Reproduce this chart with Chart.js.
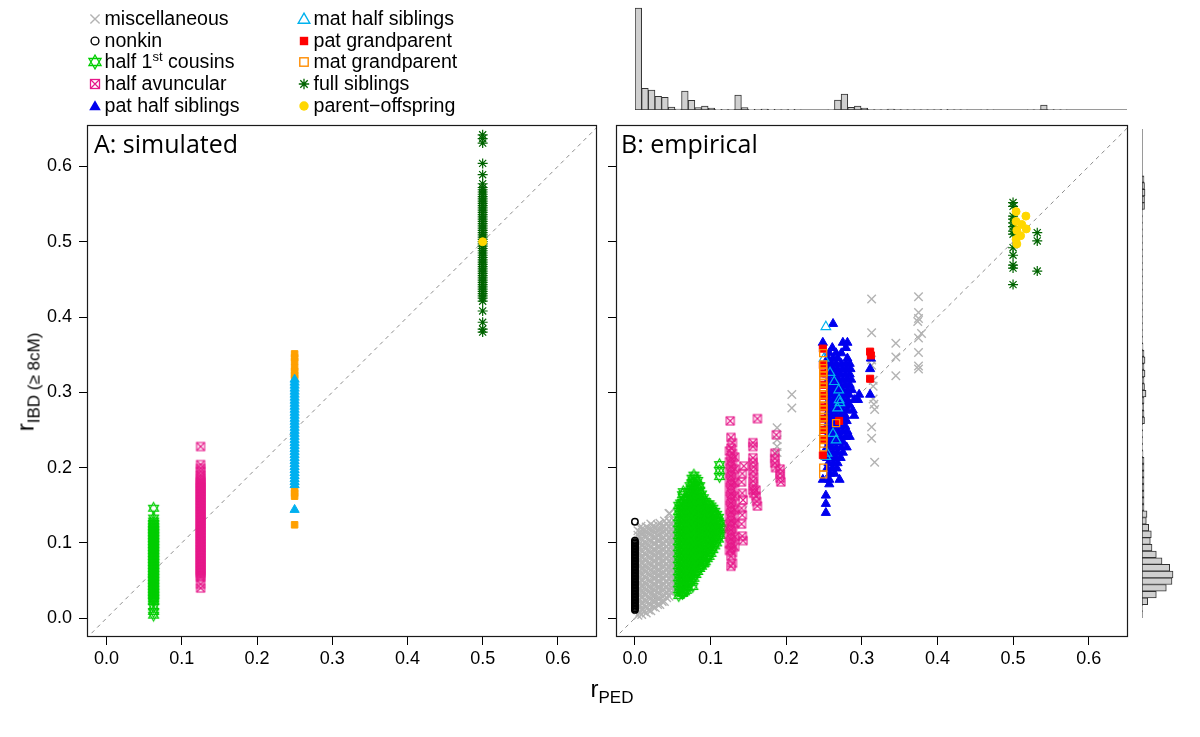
<!DOCTYPE html>
<html>
<head>
<meta charset="utf-8">
<title>r IBD vs r PED</title>
<script src="https://cdn.jsdelivr.net/npm/chart.js@4.4.1/dist/chart.umd.min.js"></script>
<style>
html,body{margin:0;padding:0;background:#fff;}
#wrap{position:relative;width:1200px;height:737px;overflow:hidden;background:#fff;font-family:"Liberation Sans",Arial,Helvetica,sans-serif;color:#000;}
#wrap canvas{position:absolute;}
.lg{position:absolute;font-size:19.6px;line-height:22px;white-space:nowrap;}
.lg svg{position:absolute;overflow:visible;}
.lg sup{font-size:13px;line-height:0;vertical-align:0.55em;}
.ptitle{position:absolute;font-family:"Open Sans","Noto Sans",sans-serif;font-size:25px;line-height:25px;white-space:nowrap;}
.atitle{position:absolute;white-space:nowrap;font-size:24px;line-height:28px;}
.atitle .sub{font-size:17px;position:relative;top:6px;}
</style>
</head>
<body>
<div id="wrap">
<canvas id="cA" width="1200" height="737" style="left:0;top:0"></canvas>
<canvas id="cB" width="1200" height="737" style="left:0;top:0"></canvas>
<canvas id="cTop" width="492" height="110" style="left:635px;top:0"></canvas>
<canvas id="cRight" width="36" height="489" style="left:1142px;top:129px"></canvas>

<div class="ptitle" style="left:94px;top:130.5px">A: simulated</div>
<div class="ptitle" style="left:621px;top:130.5px">B: empirical</div>

<div class="atitle" style="left:27px;top:382px;transform:translate(-50%,-50%) rotate(-90deg);">r<span class="sub">IBD (≥ 8cM)</span></div>
<div class="atitle" style="left:612px;top:690px;transform:translate(-50%,-50%);">r<span class="sub">PED</span></div>

<!-- legend, left column -->
<div class="lg" style="left:104.5px;top:7px"><svg width="16" height="16" viewBox="-8 -8 16 16" style="left:-17.5px;top:4px"><path d="M-4.6-4.6L4.6 4.6M-4.6 4.6L4.6-4.6" stroke="#b3b3b3" stroke-width="1.4" fill="none"/></svg>miscellaneous</div>
<div class="lg" style="left:104.5px;top:28.7px"><svg width="16" height="16" viewBox="-8 -8 16 16" style="left:-17.5px;top:4px"><circle r="3.9" fill="none" stroke="#000" stroke-width="1.4"/></svg>nonkin</div>
<div class="lg" style="left:104.5px;top:50.4px"><svg width="16" height="16" viewBox="-8 -8 16 16" style="left:-17.5px;top:4px"><path d="M0-7L6.06 3.5L-6.06 3.5Z M0 7L6.06-3.5L-6.06-3.5Z" fill="none" stroke="#00cd00" stroke-width="1.3"/></svg>half 1<sup>st</sup> cousins</div>
<div class="lg" style="left:104.5px;top:72.1px"><svg width="16" height="16" viewBox="-8 -8 16 16" style="left:-17.5px;top:4px"><rect x="-4.5" y="-4.5" width="9" height="9" fill="none" stroke="#e6198a" stroke-width="1.3"/><path d="M-4.5-4.5L4.5 4.5M-4.5 4.5L4.5-4.5" stroke="#e6198a" stroke-width="1.2"/></svg>half avuncular</div>
<div class="lg" style="left:104.5px;top:93.8px"><svg width="16" height="16" viewBox="-8 -8 16 16" style="left:-17.5px;top:4px"><path d="M0-5.8L5.8 4.2L-5.8 4.2Z" fill="#0000ee"/></svg>pat half siblings</div>

<!-- legend, right column -->
<div class="lg" style="left:313.5px;top:7px"><svg width="16" height="16" viewBox="-8 -8 16 16" style="left:-17.5px;top:4px"><path d="M0-5.8L5.8 4.2L-5.8 4.2Z" fill="none" stroke="#00b2ee" stroke-width="1.4"/></svg>mat half siblings</div>
<div class="lg" style="left:313.5px;top:28.7px"><svg width="16" height="16" viewBox="-8 -8 16 16" style="left:-17.5px;top:4px"><rect x="-4.2" y="-4.2" width="8.4" height="8.4" fill="#ff0000"/></svg>pat grandparent</div>
<div class="lg" style="left:313.5px;top:50.4px"><svg width="16" height="16" viewBox="-8 -8 16 16" style="left:-17.5px;top:4px"><rect x="-4.2" y="-4.2" width="8.4" height="8.4" fill="none" stroke="#ff8c00" stroke-width="1.4"/></svg>mat grandparent</div>
<div class="lg" style="left:313.5px;top:72.1px"><svg width="16" height="16" viewBox="-8 -8 16 16" style="left:-17.5px;top:4px"><path d="M-5.2 0H5.2M0-5.2V5.2M-3.7-3.7L3.7 3.7M-3.7 3.7L3.7-3.7" stroke="#006400" stroke-width="1.3" fill="none"/></svg>full siblings</div>
<div class="lg" style="left:313.5px;top:93.8px"><svg width="16" height="16" viewBox="-8 -8 16 16" style="left:-17.5px;top:4px"><circle r="4.7" fill="#ffd700"/></svg>parent−offspring</div>
</div>

<script>
// ================= DATA =================
const TICK_VALUES = [0.0, 0.1, 0.2, 0.3, 0.4, 0.5, 0.6];
const DIAGONAL = [[-0.05, -0.05], [0.7, 0.7]];

// ---- Panel A: simulated (one r_PED value per relationship) ----
const simCousinsX = 0.0625;
const simCousinsY = [0.146, 0.133, 0.129, 0.126, 0.124, 0.122, 0.120, 0.118, 0.116, 0.114, 0.112, 0.110, 0.108, 0.106, 0.104, 0.102, 0.100, 0.098, 0.096, 0.094, 0.092, 0.090, 0.088, 0.086, 0.084, 0.082, 0.080, 0.078, 0.076, 0.074, 0.072, 0.070, 0.068, 0.066, 0.064, 0.062, 0.060, 0.058, 0.056, 0.054, 0.052, 0.050, 0.048, 0.046, 0.044, 0.042, 0.040, 0.038, 0.036, 0.034, 0.032, 0.030, 0.028, 0.026, 0.024, 0.022, 0.015, 0.009, 0.004];
const simAvuncX = 0.125;
const simAvuncY = [0.228, 0.204, 0.199, 0.195, 0.190, 0.187, 0.184, 0.182, 0.180, 0.178, 0.176, 0.174, 0.172, 0.170, 0.168, 0.166, 0.164, 0.162, 0.160, 0.158, 0.156, 0.154, 0.152, 0.150, 0.148, 0.146, 0.144, 0.142, 0.140, 0.138, 0.136, 0.134, 0.132, 0.130, 0.128, 0.126, 0.124, 0.122, 0.120, 0.118, 0.116, 0.114, 0.112, 0.110, 0.108, 0.106, 0.104, 0.102, 0.100, 0.098, 0.096, 0.094, 0.092, 0.090, 0.088, 0.086, 0.084, 0.082, 0.080, 0.078, 0.076, 0.074, 0.072, 0.070, 0.068, 0.066, 0.064, 0.062, 0.060, 0.058, 0.056, 0.054, 0.045, 0.040];
const simGrandX = 0.25;
const simGrandY = [0.351, 0.346, 0.341, 0.333, 0.328, 0.323, 0.319, 0.171, 0.166, 0.162, 0.124];
const simHalfSibX = 0.25;
const simHalfSibY = [0.317, 0.313, 0.309, 0.305, 0.301, 0.297, 0.293, 0.289, 0.285, 0.281, 0.277, 0.273, 0.269, 0.265, 0.261, 0.257, 0.253, 0.249, 0.245, 0.241, 0.237, 0.233, 0.229, 0.225, 0.221, 0.217, 0.213, 0.209, 0.205, 0.201, 0.197, 0.193, 0.189, 0.185, 0.181, 0.177, 0.144];
const simFullSibX = 0.5;
const simFullSibY = [0.642, 0.637, 0.631, 0.604, 0.589, 0.577, 0.572, 0.569, 0.566, 0.563, 0.560, 0.557, 0.554, 0.551, 0.548, 0.545, 0.542, 0.539, 0.536, 0.533, 0.530, 0.527, 0.524, 0.521, 0.518, 0.515, 0.512, 0.509, 0.506, 0.503, 0.500, 0.497, 0.494, 0.491, 0.488, 0.485, 0.482, 0.479, 0.476, 0.473, 0.470, 0.467, 0.464, 0.461, 0.458, 0.455, 0.452, 0.449, 0.446, 0.443, 0.440, 0.437, 0.434, 0.431, 0.428, 0.425, 0.421, 0.408, 0.393, 0.384, 0.380];
const simParentOffspring = [[0.5, 0.5]];

// ---- Panel B: empirical ----
// dense clouds as columns: [r_PED, [r_IBD values]]
const empMiscCloud = [
  [0.004, [0.004, 0.011, 0.019, 0.027, 0.034, 0.042, 0.050, 0.057, 0.065, 0.073, 0.080, 0.088, 0.096, 0.103, 0.110, 0.116]],
  [0.0065, [0.008, 0.016, 0.024, 0.031, 0.039, 0.047, 0.054, 0.062, 0.070, 0.078, 0.085, 0.093, 0.100, 0.108, 0.114]],
  [0.009, [0.005, 0.012, 0.020, 0.028, 0.036, 0.043, 0.051, 0.059, 0.066, 0.074, 0.082, 0.090, 0.097, 0.105, 0.112, 0.118]],
  [0.012, [0.009, 0.017, 0.024, 0.032, 0.040, 0.047, 0.055, 0.063, 0.070, 0.078, 0.086, 0.094, 0.101, 0.109, 0.116]],
  [0.015, [0.007, 0.015, 0.023, 0.031, 0.038, 0.046, 0.054, 0.062, 0.069, 0.077, 0.085, 0.093, 0.100, 0.108, 0.115, 0.121]],
  [0.018, [0.011, 0.019, 0.027, 0.035, 0.042, 0.050, 0.058, 0.066, 0.073, 0.081, 0.089, 0.097, 0.104, 0.112, 0.119]],
  [0.021, [0.010, 0.018, 0.026, 0.033, 0.041, 0.049, 0.057, 0.064, 0.072, 0.080, 0.088, 0.095, 0.103, 0.111, 0.118, 0.125]],
  [0.024, [0.015, 0.022, 0.030, 0.038, 0.045, 0.053, 0.061, 0.068, 0.076, 0.084, 0.091, 0.099, 0.107, 0.115, 0.122]],
  [0.027, [0.014, 0.022, 0.030, 0.037, 0.045, 0.053, 0.060, 0.068, 0.076, 0.084, 0.091, 0.099, 0.107, 0.114, 0.121]],
  [0.030, [0.018, 0.026, 0.034, 0.041, 0.049, 0.057, 0.064, 0.072, 0.080, 0.087, 0.095, 0.103, 0.110, 0.117]],
  [0.033, [0.018, 0.026, 0.033, 0.041, 0.049, 0.057, 0.064, 0.072, 0.080, 0.088, 0.095, 0.103, 0.111, 0.118, 0.126]],
  [0.036, [0.022, 0.029, 0.037, 0.045, 0.053, 0.060, 0.068, 0.076, 0.083, 0.091, 0.099, 0.106, 0.114, 0.121]],
  [0.039, [0.022, 0.030, 0.038, 0.045, 0.053, 0.061, 0.069, 0.076, 0.084, 0.092, 0.099, 0.107, 0.115, 0.122, 0.129]],
  [0.042, [0.027, 0.034, 0.042, 0.049, 0.057, 0.065, 0.072, 0.080, 0.088, 0.095, 0.103, 0.111, 0.118, 0.125]],
  [0.045, [0.029, 0.036, 0.044, 0.052, 0.060, 0.067, 0.075, 0.083, 0.091, 0.098, 0.106, 0.114, 0.121, 0.129, 0.139]],
  [0.048, [0.034, 0.041, 0.049, 0.056, 0.064, 0.072, 0.079, 0.087, 0.095, 0.102, 0.110, 0.118, 0.126]],
  [0.051, [0.037, 0.045, 0.052, 0.060, 0.068, 0.076, 0.083, 0.091, 0.099, 0.107, 0.114, 0.122, 0.130]],
  [0.0535, [0.043, 0.050, 0.057, 0.065, 0.073, 0.080, 0.088, 0.096, 0.104, 0.111, 0.118]],
  [0.056, [0.046, 0.053, 0.061, 0.069, 0.077, 0.084, 0.092, 0.100, 0.108, 0.115, 0.122]]
];
const empMiscPts = [
  [0.313, 0.424], [0.375, 0.427], [0.375, 0.406], [0.375, 0.398], [0.374, 0.394], [0.379, 0.378], [0.375, 0.372], [0.375, 0.353], [0.375, 0.335], [0.375, 0.331],
  [0.345, 0.365], [0.345, 0.347], [0.345, 0.322],
  [0.313, 0.379], [0.313, 0.343], [0.313, 0.336], [0.315, 0.316], [0.315, 0.308], [0.315, 0.291], [0.316, 0.284], [0.317, 0.277], [0.313, 0.254], [0.313, 0.239], [0.317, 0.207],
  [0.2075, 0.297], [0.2075, 0.279],
  [0.188, 0.253], [0.188, 0.237], [0.188, 0.228], [0.188, 0.220],
  [0.046, 0.139], [0.030, 0.124], [0.008, 0.122]
];
const empNonkinX = 0.0;
const empNonkinY = [0.128, 0.103, 0.101, 0.099, 0.097, 0.095, 0.093, 0.091, 0.089, 0.087, 0.085, 0.083, 0.081, 0.079, 0.077, 0.075, 0.073, 0.071, 0.069, 0.067, 0.065, 0.063, 0.061, 0.059, 0.057, 0.055, 0.053, 0.051, 0.049, 0.047, 0.045, 0.043, 0.041, 0.039, 0.037, 0.035, 0.033, 0.031, 0.029, 0.027, 0.025, 0.023, 0.021, 0.019, 0.017, 0.015, 0.013, 0.011];
const empCousinsCloud = [
  [0.058, [0.030, 0.038, 0.046, 0.054, 0.062, 0.070, 0.078, 0.086, 0.094, 0.102, 0.110, 0.118, 0.126, 0.134, 0.142, 0.150]],
  [0.0605, [0.034, 0.042, 0.050, 0.058, 0.066, 0.074, 0.082, 0.090, 0.098, 0.106, 0.114, 0.122, 0.130, 0.138, 0.146, 0.153]],
  [0.063, [0.033, 0.042, 0.050, 0.058, 0.066, 0.074, 0.082, 0.090, 0.098, 0.106, 0.114, 0.122, 0.130, 0.138, 0.146, 0.154, 0.164]],
  [0.0655, [0.035, 0.046, 0.054, 0.062, 0.070, 0.078, 0.086, 0.094, 0.102, 0.110, 0.118, 0.126, 0.134, 0.142, 0.150, 0.158]],
  [0.068, [0.037, 0.045, 0.053, 0.061, 0.069, 0.077, 0.085, 0.093, 0.101, 0.109, 0.117, 0.125, 0.133, 0.141, 0.149, 0.157]],
  [0.0705, [0.041, 0.049, 0.057, 0.065, 0.073, 0.081, 0.089, 0.097, 0.105, 0.113, 0.121, 0.129, 0.137, 0.145, 0.153, 0.161, 0.168]],
  [0.073, [0.047, 0.055, 0.063, 0.071, 0.079, 0.087, 0.095, 0.103, 0.111, 0.119, 0.127, 0.135, 0.143, 0.151, 0.159, 0.167, 0.176]],
  [0.0755, [0.050, 0.059, 0.067, 0.075, 0.083, 0.091, 0.099, 0.107, 0.115, 0.123, 0.131, 0.139, 0.147, 0.155, 0.163, 0.171, 0.180, 0.186]],
  [0.078, [0.053, 0.061, 0.069, 0.077, 0.085, 0.093, 0.101, 0.109, 0.117, 0.125, 0.133, 0.141, 0.149, 0.157, 0.165, 0.173, 0.181, 0.190]],
  [0.0805, [0.058, 0.065, 0.073, 0.081, 0.089, 0.097, 0.105, 0.113, 0.121, 0.129, 0.137, 0.145, 0.153, 0.161, 0.169, 0.177, 0.186]],
  [0.083, [0.062, 0.070, 0.078, 0.086, 0.094, 0.102, 0.110, 0.118, 0.126, 0.134, 0.142, 0.150, 0.158, 0.166, 0.174, 0.183]],
  [0.0855, [0.066, 0.074, 0.082, 0.090, 0.098, 0.106, 0.114, 0.122, 0.130, 0.138, 0.146, 0.154, 0.162, 0.170, 0.176]],
  [0.088, [0.069, 0.077, 0.085, 0.093, 0.101, 0.109, 0.117, 0.125, 0.133, 0.141, 0.149, 0.157, 0.165]],
  [0.0905, [0.072, 0.080, 0.088, 0.096, 0.104, 0.112, 0.120, 0.128, 0.136, 0.144, 0.152, 0.160]],
  [0.093, [0.075, 0.083, 0.091, 0.099, 0.107, 0.115, 0.123, 0.131, 0.139, 0.147, 0.155]],
  [0.0955, [0.079, 0.087, 0.095, 0.103, 0.111, 0.119, 0.127, 0.135, 0.143, 0.151]],
  [0.098, [0.082, 0.090, 0.098, 0.106, 0.114, 0.122, 0.130, 0.138, 0.146, 0.152]],
  [0.1005, [0.086, 0.094, 0.102, 0.110, 0.118, 0.126, 0.134, 0.142, 0.149]],
  [0.103, [0.091, 0.099, 0.107, 0.115, 0.123, 0.131, 0.139, 0.146]],
  [0.1055, [0.096, 0.104, 0.112, 0.120, 0.128, 0.136, 0.142]],
  [0.108, [0.100, 0.108, 0.116, 0.124, 0.132, 0.138]],
  [0.1105, [0.105, 0.113, 0.121, 0.129, 0.134]],
  [0.113, [0.110, 0.118, 0.126]]
];
const empCousinsPts = [[0.064, 0.042], [0.063, 0.034], [0.0765, 0.042], [0.0915, 0.073], [0.112, 0.204], [0.112, 0.196], [0.112, 0.188], [0.117, 0.120], [0.064, 0.168]];
const empAvuncCloud = [
  [0.125, [0.222, 0.208, 0.195, 0.183, 0.171, 0.159, 0.147, 0.135, 0.123, 0.111, 0.099, 0.090]],
  [0.127, [0.240, 0.226, 0.213, 0.201, 0.189, 0.177, 0.165, 0.153, 0.141, 0.129, 0.117, 0.105, 0.093, 0.082, 0.069]],
  [0.129, [0.233, 0.219, 0.207, 0.195, 0.183, 0.171, 0.159, 0.147, 0.135, 0.123, 0.111, 0.099, 0.087, 0.073]],
  [0.132, [0.214, 0.198, 0.180, 0.162, 0.144, 0.126, 0.108, 0.095]]
];
const empAvuncPts = [
  [0.126, 0.262],
  [0.144, 0.202], [0.142, 0.192], [0.141, 0.181], [0.142, 0.166], [0.143, 0.157], [0.141, 0.146], [0.142, 0.137], [0.141, 0.125], [0.142, 0.109], [0.143, 0.103],
  [0.162, 0.265], [0.156, 0.233], [0.156, 0.228], [0.156, 0.213], [0.156, 0.207], [0.157, 0.201], [0.156, 0.195], [0.157, 0.188], [0.156, 0.182], [0.157, 0.176], [0.156, 0.170], [0.157, 0.166], [0.160, 0.170], [0.160, 0.162], [0.161, 0.155], [0.162, 0.149],
  [0.187, 0.2435], [0.185, 0.219], [0.185, 0.212], [0.185, 0.206], [0.186, 0.200], [0.192, 0.198], [0.192, 0.192], [0.192, 0.186], [0.193, 0.181]
];
// blue cloud as rows: [r_IBD, [r_PED values]]
const empPatHalfSibRows = [
  [0.391, [0.262]],
  [0.366, [0.2485, 0.275, 0.281]],
  [0.359, [0.261, 0.279]],
  [0.352, [0.257, 0.266, 0.273]],
  [0.345, [0.255, 0.262, 0.268, 0.281, 0.312]],
  [0.338, [0.254, 0.260, 0.266, 0.273, 0.279, 0.284]],
  [0.331, [0.256, 0.262, 0.268, 0.274, 0.280, 0.285, 0.311]],
  [0.324, [0.254, 0.260, 0.266, 0.272, 0.278, 0.284]],
  [0.317, [0.256, 0.263, 0.269, 0.275, 0.281, 0.286]],
  [0.310, [0.254, 0.260, 0.266, 0.272, 0.278, 0.284]],
  [0.303, [0.257, 0.263, 0.269, 0.275, 0.281, 0.287]],
  [0.297, [0.254, 0.260, 0.266, 0.272, 0.278, 0.283, 0.2965, 0.311]],
  [0.290, [0.257, 0.263, 0.269, 0.275, 0.281, 0.290, 0.295]],
  [0.283, [0.254, 0.260, 0.266, 0.272, 0.278, 0.284]],
  [0.276, [0.257, 0.263, 0.269, 0.275, 0.281, 0.288]],
  [0.269, [0.254, 0.260, 0.266, 0.272, 0.278, 0.290]],
  [0.262, [0.257, 0.263, 0.269, 0.275, 0.280]],
  [0.255, [0.254, 0.260, 0.266, 0.272, 0.278]],
  [0.248, [0.257, 0.263, 0.269, 0.275, 0.281]],
  [0.241, [0.254, 0.260, 0.266, 0.272, 0.279, 0.284]],
  [0.234, [0.257, 0.263, 0.269, 0.275]],
  [0.227, [0.254, 0.260, 0.266, 0.273, 0.280]],
  [0.220, [0.256, 0.262, 0.268, 0.275]],
  [0.213, [0.254, 0.260, 0.266, 0.272]],
  [0.206, [0.256, 0.262, 0.268]],
  [0.199, [0.254, 0.261, 0.267]],
  [0.192, [0.258, 0.264]],
  [0.184, [0.2485, 0.257, 0.2706]],
  [0.178, [0.257]],
  [0.163, [0.2525]],
  [0.152, [0.2525]],
  [0.140, [0.2525]]
];
const empMatHalfSibPts = [[0.2525, 0.387], [0.2636, 0.314], [0.2695, 0.303], [0.270, 0.290], [0.271, 0.286], [0.268, 0.279], [0.266, 0.2365], [0.254, 0.219], [0.2525, 0.2145], [0.250, 0.345], [0.258, 0.326], [0.262, 0.245]];
const empPatGrandPts = [[0.2485, 0.358], [0.2485, 0.336], [0.2495, 0.325], [0.2495, 0.310], [0.2495, 0.295], [0.2495, 0.280], [0.2495, 0.265], [0.2495, 0.250], [0.2495, 0.238], [0.2485, 0.2165], [0.270, 0.262], [0.311, 0.354], [0.312, 0.349], [0.311, 0.318]];
const empMatGrandX = 0.249;
const empMatGrandY = [0.352, 0.337, 0.332, 0.327, 0.322, 0.317, 0.312, 0.307, 0.302, 0.297, 0.292, 0.287, 0.282, 0.277, 0.272, 0.267, 0.262, 0.257, 0.252, 0.247, 0.242, 0.237, 0.232, 0.227, 0.200, 0.191];
const empMatGrandPts = [[0.266, 0.259]];
const empFullSibPts = [[0.5, 0.552], [0.5, 0.547], [0.5, 0.534], [0.5, 0.530], [0.5, 0.525], [0.5, 0.520], [0.5, 0.514], [0.5, 0.510], [0.5, 0.492], [0.5, 0.482], [0.5, 0.469], [0.5, 0.465], [0.5, 0.443], [0.532, 0.512], [0.532, 0.501], [0.532, 0.461]];
const empParentOffspringPts = [[0.517, 0.534], [0.5115, 0.523], [0.5175, 0.517], [0.510, 0.508], [0.504, 0.540], [0.504, 0.527], [0.505, 0.515], [0.504, 0.503], [0.505, 0.497]];

// ---- marginal histograms (bar heights) ----
const topHistCounts = [1020, 217, 200, 137, 127, 30, 10, 190, 97, 23, 40, 20, 7, 3, 3, 150, 23, 7, 2, 10, 7, 2, 2, 7, 2, 0, 0, 0, 0, 1, 100, 160, 27, 40, 20, 3, 1, 1, 10, 3, 1, 1, 1, 1, 1, 1, 7, 1, 1, 1, 0, 0, 1, 1, 0, 0, 0, 0, 0, 1, 1, 50, 3, 1, 1, 0, 0, 0, 0, 0, 0, 0, 0, 0];
const rightHistCounts = [0, 5, 57, 143, 243, 300, 310, 277, 200, 143, 100, 83, 93, 67, 43, 50, 20, 20, 20, 20, 20, 20, 20, 20, 10, 7, 5, 5, 7, 25, 20, 15, 20, 40, 25, 20, 30, 20, 30, 20, 10, 5, 3, 3, 3, 3, 3, 3, 3, 3, 3, 3, 3, 3, 3, 3, 3, 3, 3, 3, 3, 25, 25, 30, 25, 20, 0, 0, 0, 0, 0, 0, 0];

// ================= helpers =================
const col = (x, ys) => ys.map(y => ({x, y}));
const pairs = arr => arr.map(([x, y]) => ({x, y}));
const cols = arr => arr.flatMap(([x, ys]) => ys.map(y => ({x, y})));
const rows = arr => arr.flatMap(([y, xs]) => xs.map(x => ({x, y})));

function makeHexagram(color, R, lw) {
  const s = Math.ceil(2 * R + lw + 2);
  const c = document.createElement('canvas'); c.width = s; c.height = s;
  const g = c.getContext('2d'); const cx = s / 2, cy = s / 2;
  g.strokeStyle = color; g.lineWidth = lw;
  [1, -1].forEach(d => {
    g.beginPath();
    g.moveTo(cx, cy - d * R);
    g.lineTo(cx + R * 0.866, cy + d * R * 0.5);
    g.lineTo(cx - R * 0.866, cy + d * R * 0.5);
    g.closePath(); g.stroke();
  });
  return c;
}
function makeBoxX(color, side, lw) {
  const s = Math.ceil(side + lw + 2);
  const c = document.createElement('canvas'); c.width = s; c.height = s;
  const g = c.getContext('2d'); const o = (s - side) / 2;
  g.strokeStyle = color; g.lineWidth = lw;
  g.strokeRect(o, o, side, side);
  g.beginPath(); g.moveTo(o, o); g.lineTo(o + side, o + side); g.moveTo(o + side, o); g.lineTo(o, o + side); g.stroke();
  return c;
}

const COL = {misc: '#b3b3b3', cous: '#00cd00', av: '#e6198a', patHalf: '#0000ee', simHalf: '#00b0f0', matHalf: '#00b2ee', patGp: '#ff0000', matGp: '#ff8c00', simGp: '#ffa000', full: '#006400', po: '#ffd700'};
const NONE = 'rgba(0,0,0,0)';
const hexagram = makeHexagram(COL.cous, 5.8, 1.1);
const boxX = makeBoxX(COL.av, 8, 1.1);

const ST = {
  misc:    {pointStyle: 'crossRot', pointRadius: 6, pointBorderColor: COL.misc, pointBackgroundColor: COL.misc, pointBorderWidth: 1.4},
  nonkin:  {pointStyle: 'circle', pointRadius: 3.2, pointBorderColor: '#000', pointBackgroundColor: NONE, pointBorderWidth: 1.5},
  cous:    {pointStyle: hexagram, pointRadius: 5},
  av:      {pointStyle: boxX, pointRadius: 5},
  patHalf: {pointStyle: 'triangle', pointRadius: 5.3, pointBorderColor: COL.patHalf, pointBackgroundColor: COL.patHalf, pointBorderWidth: 1},
  simHalf: {pointStyle: 'triangle', pointRadius: 5.3, pointBorderColor: COL.simHalf, pointBackgroundColor: COL.simHalf, pointBorderWidth: 1},
  matHalf: {pointStyle: 'triangle', pointRadius: 5.5, pointBorderColor: COL.matHalf, pointBackgroundColor: NONE, pointBorderWidth: 1.2},
  patGp:   {pointStyle: 'rect', pointRadius: 5, pointBorderColor: COL.patGp, pointBackgroundColor: COL.patGp, pointBorderWidth: 1},
  matGp:   {pointStyle: 'rect', pointRadius: 5, pointBorderColor: COL.matGp, pointBackgroundColor: NONE, pointBorderWidth: 1.3},
  simGp:   {pointStyle: 'rect', pointRadius: 4.6, pointBorderColor: COL.simGp, pointBackgroundColor: COL.simGp, pointBorderWidth: 1},
  full:    {pointStyle: 'star', pointRadius: 5, pointBorderColor: COL.full, pointBackgroundColor: COL.full, pointBorderWidth: 1.2},
  po:      {pointStyle: 'circle', pointRadius: 4, pointBorderColor: COL.po, pointBackgroundColor: COL.po, pointBorderWidth: 1}
};

function makeSets(list) {
  const n = list.length;
  const sets = [{data: pairs(DIAGONAL), showLine: true, borderColor: '#8c8c8c', borderWidth: 1, borderDash: [4, 4], pointRadius: 0, order: n + 1}];
  list.forEach(([pts, st], i) => sets.push(Object.assign({data: pts, showLine: false, order: n - i}, st)));
  return sets;
}

const boxPlugin = {
  id: 'panelBox',
  afterDraw(chart) {
    const {ctx, chartArea: a} = chart;
    ctx.save();
    ctx.strokeStyle = '#1a1a1a'; ctx.lineWidth = 1.2;
    ctx.strokeRect(Math.round(a.left) + 0.5, Math.round(a.top) + 0.5, Math.round(a.right - a.left) - 1, Math.round(a.bottom - a.top) - 1);
    ctx.restore();
  }
};

const FONT = {family: '"Liberation Sans", Arial, sans-serif', size: 18};

function panel(id, datasets, xMin, xMax, padLeft, yAxisW, padRight, showYLabels) {
  return new Chart(document.getElementById(id), {
    type: 'scatter',
    data: {datasets},
    options: {
      responsive: false, animation: false, devicePixelRatio: 1, events: [],
      layout: {padding: {left: padLeft, right: padRight, top: 125, bottom: 55}},
      plugins: {legend: {display: false}, tooltip: {enabled: false}},
      scales: {
        x: {
          type: 'linear', min: xMin, max: xMax,
          afterBuildTicks: s => { s.ticks = TICK_VALUES.map(v => ({value: v})); },
          afterFit: s => { s.height = 45; },
          grid: {display: true, drawOnChartArea: false, drawTicks: true, tickLength: 8, color: '#000', tickWidth: 1},
          border: {display: false},
          ticks: {font: FONT, color: '#000', padding: 3, maxRotation: 0, autoSkip: false, callback: v => Number(v).toFixed(1)}
        },
        y: {
          type: 'linear', min: -0.025, max: 0.655,
          afterBuildTicks: s => { s.ticks = TICK_VALUES.map(v => ({value: v})); },
          afterFit: s => { s.width = yAxisW; },
          grid: {display: true, drawOnChartArea: false, drawTicks: true, tickLength: 8, color: '#000', tickWidth: 1},
          border: {display: false},
          ticks: {display: showYLabels, font: FONT, color: '#000', padding: 7, autoSkip: false, callback: v => Number(v).toFixed(1)}
        }
      }
    },
    plugins: [boxPlugin]
  });
}

// ---- Panel A ----
panel('cA', makeSets([
  [col(simCousinsX, simCousinsY), ST.cous],
  [col(simAvuncX, simAvuncY), ST.av],
  [col(simGrandX, simGrandY), ST.simGp],
  [col(simHalfSibX, simHalfSibY), ST.simHalf],
  [col(simFullSibX, simFullSibY), ST.full],
  [pairs(simParentOffspring), ST.po]
]), -0.026, 0.652, 0, 87, 1200 - 597, true);

// ---- Panel B ----
panel('cB', makeSets([
  [cols(empMiscCloud).concat(pairs(empMiscPts)), ST.misc],
  [col(empNonkinX, empNonkinY), ST.nonkin],
  [cols(empCousinsCloud).concat(pairs(empCousinsPts)), ST.cous],
  [cols(empAvuncCloud).concat(pairs(empAvuncPts)), ST.av],
  [rows(empPatHalfSibRows), ST.patHalf],
  [pairs(empMatHalfSibPts), ST.matHalf],
  [pairs(empPatGrandPts), ST.patGp],
  [col(empMatGrandX, empMatGrandY).concat(pairs(empMatGrandPts)), ST.matGp],
  [pairs(empFullSibPts), ST.full],
  [pairs(empParentOffspringPts), ST.po]
]), -0.025, 0.652, 530, 86, 1200 - 1128, false);

// ---- marginal histograms ----
const baselinePlugin = {
  id: 'histBaseline',
  beforeDatasetsDraw(chart) {
    const {ctx, chartArea: a} = chart;
    ctx.save(); ctx.strokeStyle = '#9a9a9a'; ctx.lineWidth = 1; ctx.beginPath();
    if (chart.options.indexAxis === 'y') { ctx.moveTo(a.left + 0.5, a.top); ctx.lineTo(a.left + 0.5, a.bottom); }
    else { ctx.moveTo(a.left, a.bottom - 0.5); ctx.lineTo(a.right, a.bottom - 0.5); }
    ctx.stroke(); ctx.restore();
  }
};
const HIST_STYLE = {backgroundColor: '#d0d0d0', borderColor: '#333', borderWidth: 1, borderSkipped: false, categoryPercentage: 1, barPercentage: 1};
new Chart(document.getElementById('cTop'), {
  type: 'bar',
  data: {labels: topHistCounts.map((_, i) => i), datasets: [Object.assign({data: topHistCounts}, HIST_STYLE)]},
  options: {
    responsive: false, animation: false, devicePixelRatio: 1, events: [],
    layout: {padding: 0},
    plugins: {legend: {display: false}, tooltip: {enabled: false}},
    scales: {x: {display: false}, y: {display: false, min: 0, max: 1100}}
  },
  plugins: [baselinePlugin]
});
new Chart(document.getElementById('cRight'), {
  type: 'bar',
  data: {labels: rightHistCounts.map((_, i) => i), datasets: [Object.assign({data: rightHistCounts}, HIST_STYLE)]},
  options: {
    indexAxis: 'y',
    responsive: false, animation: false, devicePixelRatio: 1, events: [],
    layout: {padding: 0},
    plugins: {legend: {display: false}, tooltip: {enabled: false}},
    scales: {y: {display: false, reverse: true}, x: {display: false, min: 0, max: 360}}
  },
  plugins: [baselinePlugin]
});
</script>
</body>
</html>
